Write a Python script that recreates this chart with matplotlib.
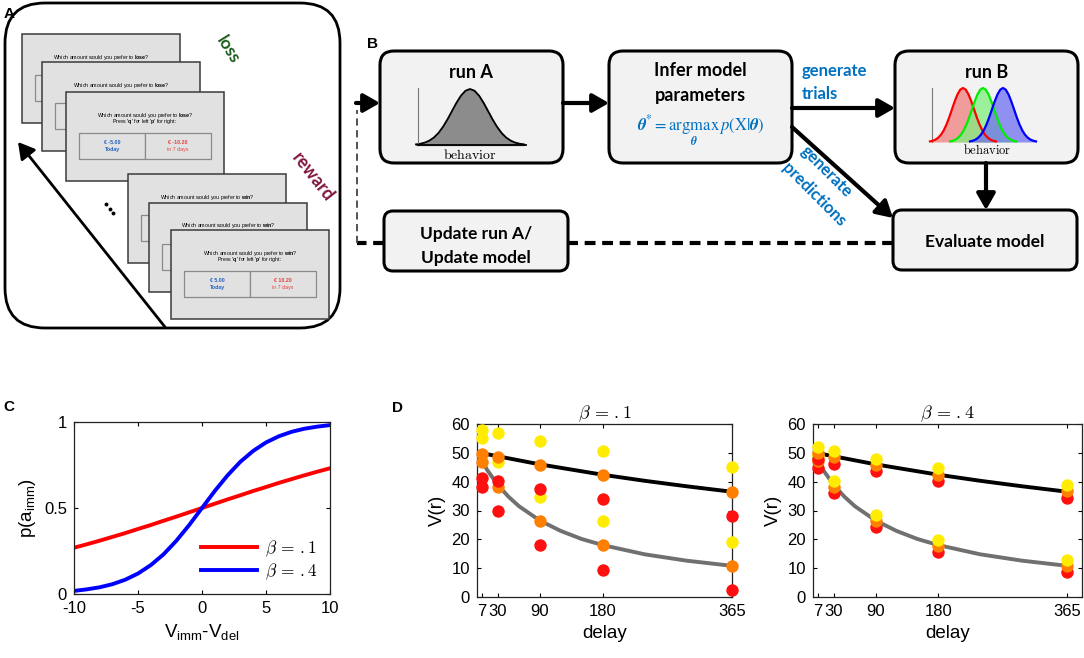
import numpy as np
import matplotlib.pyplot as plt
from matplotlib.patches import FancyBboxPatch, Rectangle
from matplotlib.font_manager import FontProperties

plt.rcParams['font.family'] = ['Liberation Sans', 'DejaVu Sans']
plt.rcParams['mathtext.fontset'] = 'custom'
plt.rcParams['mathtext.rm'] = 'Liberation Sans'
plt.rcParams['mathtext.it'] = 'Liberation Sans:italic'
plt.rcParams['mathtext.bf'] = 'Liberation Sans:bold'
plt.rcParams['axes.unicode_minus'] = False

W, H = 1084, 658

# ---- panel C data: choice probability vs value difference
v_diff = list(range(-10, 11))
p_beta1 = [0.269, 0.289, 0.310, 0.332, 0.354, 0.378, 0.401, 0.426, 0.450, 0.475, 0.500,
           0.525, 0.550, 0.574, 0.599, 0.622, 0.646, 0.668, 0.690, 0.711, 0.731]
p_beta4 = [0.018, 0.027, 0.039, 0.057, 0.083, 0.119, 0.168, 0.231, 0.310, 0.401, 0.500,
           0.599, 0.690, 0.769, 0.832, 0.881, 0.917, 0.943, 0.961, 0.973, 0.982]

# ---- panel D data
delays = [7, 30, 90, 180, 365]
slow_d = [0, 7, 15, 30, 45, 60, 90, 120, 150, 180, 240, 300, 365]
slow_v = [50.3, 49.9, 49.5, 48.8, 48.1, 47.4, 46.0, 44.8, 43.6, 42.4, 40.3, 38.4, 36.5]
fast_d = [3, 7, 15, 30, 45, 60, 90, 120, 150, 180, 240, 300, 365]
fast_v = [49.0, 47.2, 43.9, 38.8, 34.8, 31.5, 26.5, 22.9, 20.1, 18.0, 14.8, 12.6, 10.8]

b1_top_yellow = [57.9, 56.8, 54.2, 50.8, 45.1]
b1_top_orange = [49.6, 48.7, 45.8, 42.3, 36.5]
b1_top_red = [41.2, 40.2, 37.5, 33.9, 28.1]
b1_bot_yellow = [55.0, 46.7, 34.6, 26.2, 19.2]
b1_bot_orange = [46.7, 38.2, 26.2, 17.9, 10.8]
b1_bot_red = [38.2, 29.9, 17.9, 9.4, 2.3]

b4_top_yellow = [52.0, 50.5, 47.9, 44.6, 38.8]
b4_top_orange = [50.0, 48.6, 45.9, 42.4, 36.6]
b4_top_red = [47.8, 46.3, 43.8, 40.2, 34.4]
b4_bot_yellow = [49.2, 40.4, 28.4, 19.9, 12.9]
b4_bot_orange = [47.0, 38.3, 26.3, 17.8, 10.8]
b4_bot_red = [44.6, 36.2, 24.2, 15.6, 8.6]

# ---- bell shape used in the schematic of panel B
bell_u = np.arange(-3, 3.01, 0.25)
bell_h = [0.011, 0.023, 0.044, 0.080, 0.135, 0.216, 0.325, 0.458, 0.607, 0.755, 0.882, 0.969, 1.0,
          0.969, 0.882, 0.755, 0.607, 0.458, 0.325, 0.216, 0.135, 0.080, 0.044, 0.023, 0.011]

BLUE = '#0070c0'
YELLOW = '#ffec00'
ORANGE = '#ff7f00'
RED = '#ff1010'

fig = plt.figure(figsize=(W / 100, H / 100), dpi=100)
bg = fig.add_axes([0, 0, 1, 1])
bg.set_xlim(0, W)
bg.set_ylim(H, 0)
bg.axis('off')


def px_axes(l, t, r, b):
    return fig.add_axes([l / W, 1 - b / H, (r - l) / W, (b - t) / H])


def rbox(x, y, w, h, r, z=2, fc='#f2f2f2', lw=2.2):
    bg.add_patch(FancyBboxPatch((x, y), w, h, boxstyle=f'round,pad=0,rounding_size={r}',
                                fc=fc, ec='k', lw=lw, zorder=z))


def arrow(x0, y0, x1, y1, lw=3):
    bg.annotate('', xy=(x1, y1), xytext=(x0, y0),
                arrowprops=dict(arrowstyle='-|>,head_length=0.7,head_width=0.4', lw=lw,
                                color='k', shrinkA=0, shrinkB=0, mutation_scale=14),
                zorder=5)


# ================= panel A =================
bg.text(4, 14, 'A', fontsize=11, fontweight='bold', va='center')
rbox(5, 3, 335, 325, 40, z=1, fc='none', lw=2)


def screen(sx, sy, word, now, later, z, front):
    # back screens are mostly hidden, only their question line shows
    bg.add_patch(Rectangle((sx, sy), 158, 89, fc='#e1e1e1', ec='#3a3a3a', lw=1.1, zorder=z))
    bg.text(sx + 79, sy + 23, 'Which amount would you prefer to $\\mathbf{' + word + '}$?',
            fontsize=3.8, ha='center', va='center', zorder=z + 0.5)
    for bx in (sx + 13, sx + 79):
        bg.add_patch(Rectangle((bx, sy + 41), 66, 26, fc='#e1e1e1', ec='#8a8a8a', lw=0.9,
                               zorder=z + 0.2))
    if not front:
        return
    bg.text(sx + 79, sy + 30, "Press '$\\mathbf{q}$' for left '$\\mathbf{p}$' for right:",
            fontsize=3.8, ha='center', va='center', zorder=z + 0.5)
    bg.text(sx + 46, sy + 50, now, fontsize=3.8, color='#2060c0', fontweight='bold',
            ha='center', va='center', zorder=z + 0.5)
    bg.text(sx + 46, sy + 58, 'Today', fontsize=3.8, color='#2060c0', fontweight='bold',
            ha='center', va='center', zorder=z + 0.5)
    bg.text(sx + 112, sy + 50, later, fontsize=3.8, color='#e8413c', fontweight='bold',
            ha='center', va='center', zorder=z + 0.5)
    bg.text(sx + 112, sy + 58, 'in 7 days', fontsize=3.8, color='#e8413c',
            ha='center', va='center', zorder=z + 0.5)


screen(22, 34, 'lose', '€ -5.00', '€ -10.20', 2, False)
screen(42, 62, 'lose', '€ -5.00', '€ -10.20', 3, False)
screen(66, 92, 'lose', '€ -5.00', '€ -10.20', 4, True)
screen(128, 174, 'win', '€ 5.00', '€ 10.20', 5, False)
screen(149, 203, 'win', '€ 5.00', '€ 10.20', 6, False)
screen(171, 230, 'win', '€ 5.00', '€ 10.20', 7, True)

bg.text(228, 50, 'loss', fontsize=12.5, color='#1e5c1e', fontweight='bold', family='Lato',
        rotation=-58, ha='center', va='center')
bg.text(313, 177, 'reward', fontsize=13, color='#7f1740', fontweight='bold', family='Lato',
        rotation=-52, ha='center', va='center')
bg.plot([106, 109.5, 113], [204, 208.5, 213], 'o', color='k', ms=1.8, zorder=9)
arrow(165, 327, 18, 142, lw=2)

# ================= panel B =================
bg.text(367, 44, 'B', fontsize=11, fontweight='bold', va='center')
rbox(380, 51, 183, 112, 14)
rbox(609, 51, 183, 112, 14)
rbox(895, 51, 183, 112, 14)
rbox(384, 211, 184, 60, 9)
rbox(893, 210, 184, 60, 9)

bkw = dict(family='Lato', fontweight='bold', ha='center', va='center', zorder=6)
bg.text(471, 73, 'run A', fontsize=13, **bkw)
bg.text(700, 70, 'Infer model', fontsize=13, **bkw)
bg.text(700, 95, 'parameters', fontsize=13, **bkw)
bg.text(987, 73, 'run B', fontsize=13, **bkw)
bg.text(476, 234, 'Update run A/', fontsize=12.5, **bkw)
bg.text(476, 258, 'Update model', fontsize=12.5, **bkw)
bg.text(985, 242, 'Evaluate model', fontsize=12.5, **bkw)

bg.text(701, 131, r'$\boldsymbol{\theta}^{*} = \underset{\boldsymbol{\theta}}{\mathrm{argmax}}\,'
        r'p(\mathrm{X}|\boldsymbol{\theta})$', fontsize=12, color=BLUE, math_fontfamily='stix',
        ha='center', va='center', zorder=6)

# run A bell
bx = 470 + 18 * bell_u
by = 145 - 56 * np.array(bell_h)
bg.fill_between(bx, by, 145, color='#8c8c8c', zorder=6)
bg.plot(bx, by, color='k', lw=1.3, zorder=7)
bg.plot([418, 418], [88, 145], color='#777777', lw=0.8, zorder=7)
bg.plot([418, 526], [145, 145], color='k', lw=1.3, zorder=7)
bg.text(470, 155, r'$\mathrm{behavior}$', math_fontfamily='cm', fontsize=10,
        ha='center', va='center', zorder=7)

# run B bells
bg.plot([932, 932], [88, 142], color='#777777', lw=0.8, zorder=7)
for cx, col, fcol in [(963, '#ff0000', '#f08080'), (983, '#00ee00', '#80f080'),
                      (1003, '#0000ff', '#7070f0')]:
    gx = cx + 11 * bell_u
    gy = 142 - 54 * np.array(bell_h)
    bg.fill_between(gx, gy, 142, color=fcol, alpha=0.75, zorder=6, lw=0)
    bg.plot(gx, gy, color=col, lw=1.6, zorder=7)
bg.text(987, 150, r'$\mathrm{behavior}$', math_fontfamily='cm', fontsize=9,
        ha='center', va='center', zorder=7)

# arrows and connections
arrow(563, 103, 609, 103)
arrow(792, 108, 895, 108)
arrow(792, 127, 893, 218)
arrow(986, 163, 986, 210)
bg.plot([893, 568], [243, 243], color='k', lw=3, ls=(0, (2.6, 1.6)), zorder=4)
bg.plot([384, 357], [243, 243], color='k', lw=3, ls=(0, (2.6, 1.6)), zorder=4)
bg.plot([357, 357], [243, 110], color='#444444', lw=1.3, ls=(0, (4, 2.5)), zorder=4)
arrow(356, 103, 380, 103)

bg.text(802, 71, 'generate', fontsize=12, color=BLUE, family='Lato', fontweight='bold',
        va='center')
bg.text(802, 94, 'trials', fontsize=12, color=BLUE, family='Lato', fontweight='bold',
        va='center')
bg.text(826, 172, 'generate', fontsize=12, color=BLUE, family='Lato', fontweight='bold',
        rotation=-45, ha='center', va='center', rotation_mode='anchor')
bg.text(814, 195, 'predictions', fontsize=12, color=BLUE, family='Lato', fontweight='bold',
        rotation=-45, ha='center', va='center', rotation_mode='anchor')


# ================= panels C & D =================
def style(ax):
    for s in ax.spines.values():
        s.set_linewidth(0.9)
        s.set_color('#222222')
    ax.tick_params(direction='in', top=True, right=True, length=3, width=0.8, labelsize=12,
                   pad=5)


bg.text(3, 407, 'C', fontsize=11, fontweight='bold', va='center')
axc = px_axes(74, 422, 330, 594)
axc.plot(v_diff, p_beta1, color='#ff0000', lw=2.8, label=r'$\beta\,=\,.1$')
axc.plot(v_diff, p_beta4, color='#0000ff', lw=2.8, label=r'$\beta\,=\,.4$')
axc.set_xlim(-10, 10)
axc.set_ylim(0, 1)
axc.set_xticks([-10, -5, 0, 5, 10])
axc.set_yticks([0, 0.5, 1])
axc.set_yticklabels(['0', '0.5', '1'])
axc.set_xlabel(r'V$_{\rm imm}$-V$_{\rm del}$', fontsize=13.5)
axc.set_ylabel(r'p(a$_{\rm imm}$)', fontsize=13.5)
style(axc)
axc.legend(loc='lower right', frameon=False, handlelength=3.2, labelspacing=0.15,
           borderaxespad=0.3, handletextpad=0.5,
           prop=FontProperties(size=12.5, math_fontfamily='cm'))

bg.text(392, 408, 'D', fontsize=11, fontweight='bold', va='center')
panels = [
    (px_axes(477, 424, 732, 597), 365, r'$\beta\,=\,.1$',
     [b1_bot_red, b1_bot_orange, b1_bot_yellow, b1_top_red, b1_top_orange, b1_top_yellow]),
    (px_axes(813, 424, 1082, 597), 386, r'$\beta\,=\,.4$',
     [b4_bot_red, b4_bot_orange, b4_bot_yellow, b4_top_red, b4_top_orange, b4_top_yellow]),
]
for ax, xmax, title, sets in panels:
    ax.plot(slow_d, slow_v, color='k', lw=2.8, zorder=2)
    ax.plot(fast_d, fast_v, color='#707070', lw=2.8, zorder=2)
    for vals, col in zip(sets, [RED, ORANGE, YELLOW] * 2):
        ax.scatter(delays, vals, s=80, color=col, zorder=3, clip_on=False, lw=0)
    ax.set_xlim(0, xmax)
    ax.set_ylim(0, 60)
    ax.set_xticks(delays)
    ax.set_yticks(range(0, 61, 10))
    ax.set_xlabel('delay', fontsize=13.5)
    ax.set_ylabel('V(r)', fontsize=13.5)
    ax.set_title(title, fontsize=13, math_fontfamily='cm', pad=4)
    style(ax)

fig.savefig('out.png', dpi=100)
